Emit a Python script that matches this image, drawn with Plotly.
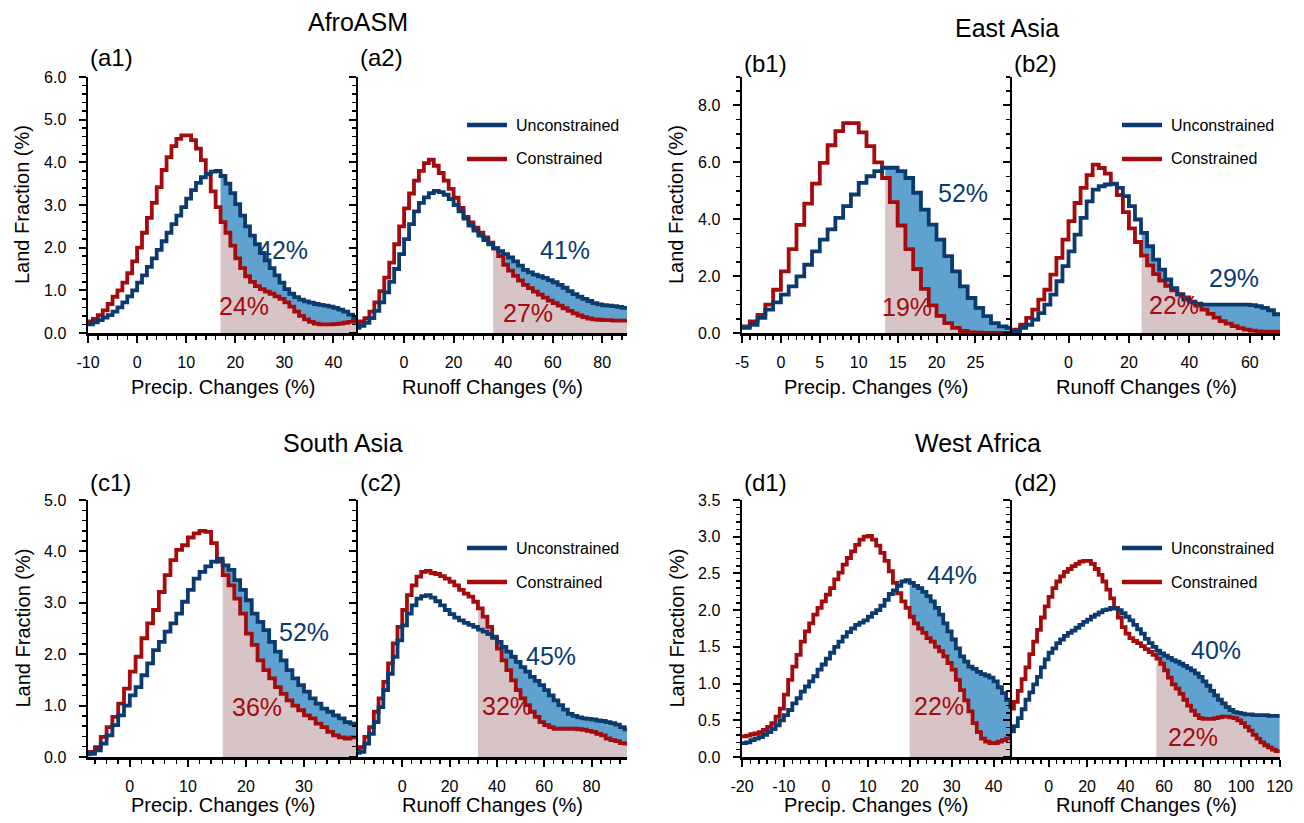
import numpy as np
import plotly.graph_objects as go

W, H = 1304, 823

# ---------------- data (land fraction %, per histogram bin) ----------------
# AfroASM
a1_start, a1_width, a1_thr = -10, 1, 17
a1_unc = [0.20, 0.25, 0.30, 0.36, 0.42, 0.50, 0.60, 0.72, 0.86, 1.00,
          1.18, 1.35, 1.55, 1.75, 1.95, 2.15, 2.35, 2.55, 2.75, 2.95,
          3.15, 3.35, 3.52, 3.65, 3.73, 3.78, 3.80, 3.68, 3.50, 3.28,
          3.02, 2.75, 2.50, 2.28, 2.08, 1.88, 1.70, 1.52, 1.35, 1.18,
          1.03, 0.92, 0.84, 0.78, 0.74, 0.71, 0.68, 0.66, 0.64, 0.62,
          0.59, 0.55, 0.50, 0.43, 0.35]
a1_con = [0.27, 0.33, 0.42, 0.53, 0.68, 0.85, 1.00, 1.18, 1.40, 1.68,
          2.00, 2.35, 2.70, 3.05, 3.42, 3.82, 4.12, 4.38, 4.55, 4.63,
          4.63, 4.52, 4.32, 4.05, 3.72, 3.32, 2.95, 2.60, 2.35, 2.05,
          1.75, 1.52, 1.33, 1.20, 1.10, 1.03, 0.97, 0.92, 0.86, 0.80,
          0.72, 0.62, 0.50, 0.40, 0.32, 0.26, 0.22, 0.20, 0.20, 0.20,
          0.21, 0.22, 0.24, 0.26, 0.27]

a2_start, a2_width, a2_thr = -20, 2, 36
a2_unc = [0.12, 0.17, 0.24, 0.35, 0.52, 0.72, 0.95, 1.20, 1.50, 1.85,
          2.20, 2.55, 2.85, 3.05, 3.18, 3.28, 3.33, 3.30, 3.24, 3.14,
          3.00, 2.85, 2.68, 2.52, 2.40, 2.28, 2.18, 2.08, 1.99, 1.92,
          1.85, 1.77, 1.68, 1.58, 1.48, 1.42, 1.37, 1.33, 1.29, 1.24,
          1.19, 1.13, 1.06, 0.98, 0.91, 0.85, 0.80, 0.75, 0.70, 0.67,
          0.65, 0.64, 0.63, 0.61, 0.59]
a2_con = [0.23, 0.27, 0.35, 0.50, 0.72, 0.98, 1.30, 1.65, 2.08, 2.50,
          2.92, 3.27, 3.57, 3.80, 3.98, 4.06, 3.92, 3.75, 3.57, 3.38,
          3.17, 2.93, 2.72, 2.59, 2.47, 2.35, 2.24, 2.12, 1.98, 1.80,
          1.60, 1.46, 1.34, 1.23, 1.13, 1.05, 0.97, 0.90, 0.83, 0.76,
          0.70, 0.64, 0.58, 0.52, 0.46, 0.41, 0.37, 0.34, 0.32, 0.31,
          0.30, 0.30, 0.29, 0.29, 0.29]

# East Asia
b1_start, b1_width, b1_thr = -5, 1, 13.4
b1_unc = [0.18, 0.29, 0.53, 0.82, 1.08, 1.35, 1.64, 1.99, 2.40, 2.87,
          3.28, 3.64, 4.05, 4.46, 4.87, 5.28, 5.51, 5.69, 5.81, 5.81,
          5.69, 5.45, 4.93, 4.34, 3.81, 3.28, 2.70, 2.17, 1.64, 1.23,
          0.88, 0.59, 0.35, 0.23, 0.18]
b1_con = [0.23, 0.41, 0.64, 1.00, 1.52, 2.17, 2.95, 3.80, 4.55, 5.25,
          5.98, 6.60, 7.10, 7.38, 7.38, 7.05, 6.57, 6.00, 5.45, 4.60,
          3.78, 2.95, 2.25, 1.55, 0.97, 0.60, 0.35, 0.18, 0.07, 0.02,
          0.01, 0.00, 0.00, 0.00, 0.00]

b2_start, b2_width, b2_thr = -20, 2, 24.2
b2_unc = [0.05, 0.06, 0.18, 0.29, 0.47, 0.70, 1.00, 1.35, 1.82, 2.35,
          2.87, 3.46, 4.05, 4.63, 5.04, 5.16, 5.22, 5.24, 5.10, 4.81,
          4.46, 3.99, 3.52, 3.05, 2.58, 2.23, 1.88, 1.58, 1.35, 1.17,
          1.08, 1.03, 1.00, 1.00, 1.00, 1.00, 1.00, 1.00, 1.00, 1.00,
          0.98, 0.94, 0.88, 0.80, 0.66]
b2_con = [0.06, 0.12, 0.29, 0.53, 0.82, 1.17, 1.52, 2.05, 2.64, 3.28,
          3.93, 4.57, 5.10, 5.55, 5.92, 5.80, 5.60, 5.25, 4.85, 4.25,
          3.68, 3.20, 2.72, 2.38, 2.07, 1.84, 1.66, 1.50, 1.37, 1.25,
          1.10, 0.96, 0.82, 0.67, 0.54, 0.42, 0.33, 0.24, 0.17, 0.12,
          0.08, 0.06, 0.05, 0.05, 0.05]

# South Asia
c1_start, c1_width, c1_thr = -8, 1, 16
c1_unc = [0.05, 0.06, 0.13, 0.26, 0.42, 0.62, 0.81, 1.00,
          1.20, 1.36, 1.59, 1.82, 2.08, 2.24, 2.44, 2.60, 2.79, 3.02,
          3.25, 3.47, 3.60, 3.71, 3.80, 3.86, 3.73, 3.64, 3.44, 3.25,
          3.05, 2.79, 2.63, 2.47, 2.24, 2.05, 1.88, 1.69, 1.53, 1.40,
          1.27, 1.14, 1.04, 0.94, 0.88, 0.81, 0.75, 0.68, 0.65]
c1_con = [0.08, 0.10, 0.19, 0.39, 0.58, 0.78, 1.04, 1.33,
          1.66, 1.95, 2.31, 2.60, 2.86, 3.21, 3.54, 3.83, 4.03, 4.12,
          4.27, 4.35, 4.40, 4.38, 4.16, 3.80, 3.54, 3.34, 3.08, 2.79,
          2.40, 2.18, 1.88, 1.69, 1.53, 1.36, 1.23, 1.10, 1.00, 0.91,
          0.81, 0.75, 0.65, 0.58, 0.49, 0.42, 0.38, 0.36, 0.38]

c2_start, c2_width, c2_thr = -20, 2, 32
c2_unc = [0.08, 0.10, 0.26, 0.45, 0.68, 0.97, 1.30, 1.62, 1.95, 2.27,
          2.56, 2.79, 2.95, 3.08, 3.13, 3.15, 3.10, 3.03, 2.95, 2.86,
          2.78, 2.71, 2.66, 2.61, 2.57, 2.53, 2.48, 2.44, 2.39, 2.32,
          2.24, 2.14, 2.05, 1.95, 1.85, 1.75, 1.66, 1.56, 1.48, 1.40,
          1.30, 1.20, 1.10, 1.01, 0.92, 0.84, 0.80, 0.77, 0.75, 0.74,
          0.73, 0.71, 0.70, 0.68, 0.66, 0.63, 0.58, 0.54]
c2_con = [0.15, 0.19, 0.39, 0.58, 0.88, 1.14, 1.46, 1.82, 2.21, 2.53,
          2.86, 3.15, 3.34, 3.51, 3.60, 3.62, 3.58, 3.56, 3.52, 3.47,
          3.41, 3.34, 3.25, 3.18, 3.12, 3.02, 2.89, 2.73, 2.53, 2.34,
          2.11, 1.88, 1.69, 1.49, 1.30, 1.14, 1.01, 0.88, 0.78, 0.68,
          0.62, 0.58, 0.55, 0.55, 0.55, 0.55, 0.55, 0.54, 0.53, 0.51,
          0.49, 0.45, 0.42, 0.36, 0.33, 0.31, 0.27, 0.26]

# West Africa
d1_start, d1_width, d1_thr = -20, 1, 20
d1_unc = [0.19, 0.20, 0.23, 0.25, 0.27, 0.30, 0.34, 0.38, 0.43, 0.50,
          0.57, 0.64, 0.73, 0.80, 0.89, 0.96, 1.03, 1.10, 1.19, 1.26,
          1.34, 1.42, 1.50, 1.57, 1.64, 1.70, 1.75, 1.80, 1.83, 1.86,
          1.91, 1.96, 2.00, 2.06, 2.14, 2.22, 2.27, 2.33, 2.39, 2.41,
          2.37, 2.33, 2.30, 2.25, 2.19, 2.12, 2.03, 1.94, 1.82, 1.71,
          1.60, 1.48, 1.37, 1.30, 1.23, 1.20, 1.16, 1.13, 1.11, 1.08,
          1.03, 0.95, 0.87, 0.78, 0.68]
d1_con = [0.28, 0.29, 0.31, 0.32, 0.34, 0.37, 0.41, 0.46, 0.55, 0.66,
          0.85, 1.05, 1.23, 1.39, 1.57, 1.71, 1.82, 1.94, 2.03, 2.12,
          2.21, 2.30, 2.42, 2.51, 2.62, 2.71, 2.80, 2.89, 2.96, 3.00,
          3.01, 2.96, 2.88, 2.78, 2.67, 2.53, 2.37, 2.23, 2.12, 2.03,
          1.91, 1.82, 1.75, 1.69, 1.62, 1.57, 1.50, 1.44, 1.37, 1.28,
          1.19, 1.05, 0.91, 0.77, 0.62, 0.46, 0.34, 0.25, 0.21, 0.19,
          0.19, 0.21, 0.23, 0.25, 0.26]

d2_start, d2_width, d2_thr = -20, 2, 56
d2_unc = [0.35, 0.42, 0.53, 0.65, 0.78, 0.88, 0.99, 1.09, 1.22, 1.33,
          1.42, 1.48, 1.55, 1.60, 1.65, 1.69, 1.72, 1.76, 1.80, 1.84,
          1.87, 1.91, 1.94, 1.97, 2.00, 2.01, 2.03, 2.02, 2.00, 1.96,
          1.91, 1.86, 1.80, 1.74, 1.68, 1.61, 1.55, 1.50, 1.45, 1.41,
          1.38, 1.35, 1.32, 1.30, 1.27, 1.24, 1.21, 1.18, 1.14, 1.09,
          1.03, 0.97, 0.90, 0.84, 0.78, 0.73, 0.68, 0.64, 0.61, 0.60,
          0.59, 0.58, 0.58, 0.57, 0.57, 0.57, 0.57, 0.56, 0.56, 0.56]
d2_con = [0.66, 0.75, 0.90, 1.06, 1.22, 1.40, 1.57, 1.73, 1.90, 2.05,
          2.18, 2.30, 2.39, 2.46, 2.52, 2.56, 2.60, 2.63, 2.66, 2.67,
          2.67, 2.63, 2.56, 2.48, 2.39, 2.28, 2.16, 2.03, 1.90, 1.77,
          1.68, 1.62, 1.58, 1.55, 1.51, 1.47, 1.43, 1.39, 1.34, 1.27,
          1.18, 1.08, 0.99, 0.93, 0.86, 0.78, 0.70, 0.63, 0.57, 0.53,
          0.52, 0.52, 0.52, 0.53, 0.54, 0.55, 0.55, 0.54, 0.53, 0.50,
          0.46, 0.41, 0.36, 0.30, 0.25, 0.20, 0.16, 0.13, 0.10, 0.08]

# tick labels
a1_xticks = [-10, 0, 10, 20, 30, 40]
a2_xticks = [0, 20, 40, 60, 80]
b1_xticks = [-5, 0, 5, 10, 15, 20, 25]
b2_xticks = [0, 20, 40, 60]
c1_xticks = [0, 10, 20, 30]
c2_xticks = [0, 20, 40, 60, 80]
d1_xticks = [-20, -10, 0, 10, 20, 30, 40]
d2_xticks = [0, 20, 40, 60, 80, 100, 120]
a_yticks = [0, 1, 2, 3, 4, 5, 6]
b_yticks = [0, 2, 4, 6, 8]
c_yticks = [0, 1, 2, 3, 4, 5]
d_yticks = [0, 0.5, 1, 1.5, 2, 2.5, 3, 3.5]

region_titles = ["AfroASM", "East Asia", "South Asia", "West Africa"]
panel_labels = ["(a1)", "(a2)", "(b1)", "(b2)", "(c1)", "(c2)", "(d1)", "(d2)"]
unc_pct = ["42%", "41%", "52%", "29%", "52%", "45%", "44%", "40%"]
con_pct = ["24%", "27%", "19%", "22%", "36%", "32%", "22%", "22%"]
series_names = ["Unconstrained", "Constrained"]
xtitles = ["Precip. Changes (%)", "Runoff Changes (%)"]
ytitle = "Land Fraction (%)"

# ---------------- styling / layout ----------------
FONT = "Liberation Sans, Arial, Helvetica, sans-serif"
BLUE = "#0b3a6e"
RED = "#a50a0c"
BLUE_FILL = "#5fa2cf"
PINK_FILL = "#d6c4c6"

panels = [
    dict(start=a1_start, width=a1_width, thr=a1_thr, unc=a1_unc, con=a1_con,
         px=(88, 358), py=(77, 333), xr=(-10, 45), yr=(0, 6), xt=a1_xticks, xm=2,
         yt=a_yticks, ym=0.2, first=True, pu=(283, 250), pc=(244, 306)),
    dict(start=a2_start, width=a2_width, thr=a2_thr, unc=a2_unc, con=a2_con,
         px=(358, 627), py=(77, 333), xr=(-18.6, 90), yr=(0, 6), xt=a2_xticks, xm=4,
         yt=a_yticks, ym=0.2, first=False, pu=(565, 250), pc=(528, 313), leg=(467, 125)),
    dict(start=b1_start, width=b1_width, thr=b1_thr, unc=b1_unc, con=b1_con,
         px=(742, 1012), py=(77, 333), xr=(-5, 29.7), yr=(0, 9), xt=b1_xticks, xm=1,
         yt=b_yticks, ym=0.5, first=True, pu=(963, 193), pc=(907, 307)),
    dict(start=b2_start, width=b2_width, thr=b2_thr, unc=b2_unc, con=b2_con,
         px=(1012, 1280), py=(77, 333), xr=(-18.7, 70), yr=(0, 9), xt=b2_xticks, xm=4,
         yt=b_yticks, ym=0.5, first=False, pu=(1234, 278), pc=(1174, 305), leg=(1122, 125)),
    dict(start=c1_start, width=c1_width, thr=c1_thr, unc=c1_unc, con=c1_con,
         px=(88, 358), py=(500, 757), xr=(-7.2, 39.3), yr=(0, 5), xt=c1_xticks, xm=2,
         yt=c_yticks, ym=0.2, first=True, pu=(304, 632), pc=(257, 707)),
    dict(start=c2_start, width=c2_width, thr=c2_thr, unc=c2_unc, con=c2_con,
         px=(358, 627), py=(500, 757), xr=(-18.7, 95), yr=(0, 5), xt=c2_xticks, xm=4,
         yt=c_yticks, ym=0.2, first=False, pu=(551, 656), pc=(507, 706), leg=(467, 548)),
    dict(start=d1_start, width=d1_width, thr=d1_thr, unc=d1_unc, con=d1_con,
         px=(742, 1012), py=(500, 757), xr=(-20, 44.4), yr=(0, 3.5), xt=d1_xticks, xm=2,
         yt=d_yticks, ym=0.1, first=True, pu=(952, 575), pc=(939, 706)),
    dict(start=d2_start, width=d2_width, thr=d2_thr, unc=d2_unc, con=d2_con,
         px=(1012, 1280), py=(500, 757), xr=(-19, 120.2), yr=(0, 3.5), xt=d2_xticks, xm=4,
         yt=d_yticks, ym=0.1, first=False, pu=(1216, 650), pc=(1193, 737), leg=(1122, 548)),
]


def fx(p):
    return p / W


def fy(p):
    return 1 - p / H


def steps(start, width, vals):
    v = np.asarray(vals, dtype=float)
    edges = start + width * np.arange(len(v) + 1)
    return edges, np.append(v, v[-1])


def tail(edges, y, thr):
    idx = int(np.searchsorted(edges, thr, side="right") - 1)
    xs = np.concatenate([[thr], edges[idx + 1:]])
    ys = np.concatenate([[y[idx]], y[idx + 1:]])
    return xs, ys


def text(t, x, y, size, color="black", xanchor="center", angle=0):
    return dict(text=t, x=fx(x), y=fy(y), xref="paper", yref="paper", showarrow=False,
                xanchor=xanchor, yanchor="middle", textangle=angle,
                font=dict(family=FONT, size=size, color=color))


fig = go.Figure()
layout = dict(
    template="none",
    width=W, height=H, margin=dict(l=0, r=0, t=0, b=0, pad=0, autoexpand=False),
    paper_bgcolor="white", plot_bgcolor="white", showlegend=False,
    font=dict(family=FONT, color="black"), hovermode=False,
)
annotations = []
shapes = []

for i, p in enumerate(panels):
    n = i + 1
    xa = "x" if n == 1 else f"x{n}"
    ya = "y" if n == 1 else f"y{n}"
    ex, yu = steps(p["start"], p["width"], p["unc"])
    _, yc = steps(p["start"], p["width"], p["con"])
    tx, tc = tail(ex, yc, p["thr"])
    _, tu = tail(ex, yu, p["thr"])
    tmax = np.maximum(tu, tc)

    fig.add_trace(go.Scatter(x=tx, y=tc, mode="lines", line=dict(width=0, shape="hv"),
                             fill="tozeroy", fillcolor=PINK_FILL, xaxis=xa, yaxis=ya,
                             hoverinfo="skip"))
    fig.add_trace(go.Scatter(x=tx, y=tmax, mode="lines", line=dict(width=0, shape="hv"),
                             fill="tonexty", fillcolor=BLUE_FILL, xaxis=xa, yaxis=ya,
                             hoverinfo="skip"))
    fig.add_trace(go.Scatter(x=ex, y=yc, mode="lines", name=series_names[1],
                             line=dict(color=RED, width=3.8, shape="hv"), xaxis=xa, yaxis=ya))
    fig.add_trace(go.Scatter(x=ex, y=yu, mode="lines", name=series_names[0],
                             line=dict(color=BLUE, width=3.8, shape="hv"), xaxis=xa, yaxis=ya))

    axis_common = dict(showline=True, linecolor="black", linewidth=2.5,
                       ticks="outside", ticklen=7, tickwidth=2, tickcolor="black",
                       showgrid=False, zeroline=False, automargin=False,
                       tickfont=dict(family=FONT, size=16, color="black"))
    xkey = "xaxis" if n == 1 else f"xaxis{n}"
    ykey = "yaxis" if n == 1 else f"yaxis{n}"
    layout[xkey] = dict(
        axis_common, domain=[fx(p["px"][0]), fx(p["px"][1])], range=list(p["xr"]),
        anchor=ya, tickmode="array", tickvals=p["xt"],
        ticktext=[f"{v:g}" for v in p["xt"]], ticklabelstandoff=6,
        minor=dict(ticks="outside", ticklen=4, tickwidth=1.5, tickcolor="black",
                   dtick=p["xm"], tick0=0, showgrid=False),
    )
    layout[ykey] = dict(
        axis_common, domain=[fy(p["py"][1]), fy(p["py"][0])], range=list(p["yr"]),
        anchor=xa, tickmode="array", tickvals=p["yt"],
        ticktext=[f"{v:.1f}" for v in p["yt"]], showticklabels=p["first"],
        ticklabelstandoff=9,
        minor=dict(ticks="outside", ticklen=4, tickwidth=1.5, tickcolor="black",
                   dtick=p["ym"], tick0=0, showgrid=False),
    )

    annotations.append(text(unc_pct[i], p["pu"][0], p["pu"][1], 25, BLUE))
    annotations.append(text(con_pct[i], p["pc"][0], p["pc"][1], 25, RED))
    lab_y = 58 if i < 2 else (63 if i < 4 else 482)
    annotations.append(text(panel_labels[i], p["px"][0], lab_y, 24, xanchor="left"))
    xt_y = 387 if i < 4 else 805
    annotations.append(text(xtitles[0] if p["first"] else xtitles[1],
                            (p["px"][0] + p["px"][1]) / 2, xt_y, 20))
    if p["first"]:
        ytx = 22 if p["px"][0] < 400 else 676
        annotations.append(text(ytitle, ytx, (p["py"][0] + p["py"][1]) / 2, 20, angle=-90))
    else:
        lx, ly = p["leg"]
        for k, (nm, col) in enumerate(zip(series_names, [BLUE, RED])):
            yy = ly + 34 * k
            shapes.append(dict(type="line", xref="paper", yref="paper",
                               x0=fx(lx), x1=fx(lx + 40), y0=fy(yy), y1=fy(yy),
                               line=dict(color=col, width=4.5)))
            annotations.append(text(nm, lx + 47, yy, 16, xanchor="left"))

for t, (cx, cy) in zip(region_titles, [(358, 22), (1007, 28), (343, 443), (978, 443)]):
    annotations.append(text(t, cx, cy, 25))

layout["annotations"] = annotations
layout["shapes"] = shapes
fig.update_layout(**layout)
fig.write_html("out.html", config={"displayModeBar": False, "staticPlot": True},
               post_script="document.body.style.margin='0';document.body.style.overflow='hidden';")
